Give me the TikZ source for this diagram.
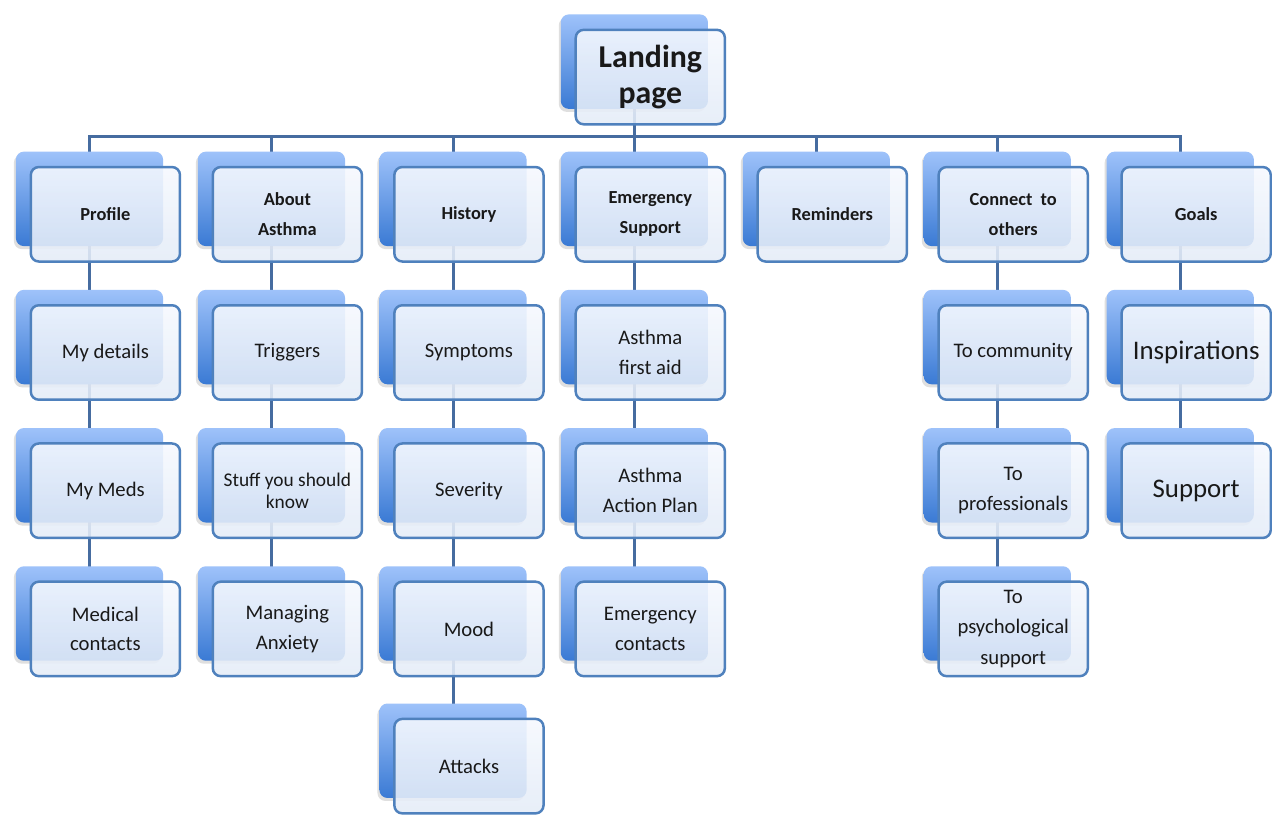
\documentclass[tikz,border=0pt]{standalone}
\usepackage{fontspec}
\setmainfont{Carlito}
\usetikzlibrary{shadows}
\definecolor{linecol}{RGB}{70,108,160}
\definecolor{frontborder}{RGB}{79,129,189}
\definecolor{backtop}{RGB}{158,194,250}
\definecolor{backbot}{RGB}{58,122,212}
\definecolor{frontT}{RGB}{246,249,254}
\definecolor{frontB}{RGB}{228,236,248}
\definecolor{textcol}{RGB}{25,25,25}
\pgfdeclarelayer{bgzero}
\pgfdeclarelayer{background}
\pgfsetlayers{bgzero,background,main}
\newcommand\mkunit[5][]{%
  \node[backbox] (#2-b) at ({#3+60},{#4+33}) {};
  \node[frontbox,#1] (#2) at ({#3+76},{#4+48.5}) {#5};}
\begin{document}
\begin{tikzpicture}[x=1pt,y=-1pt,
  backbox/.style={minimum width=148pt,minimum height=95pt,inner sep=0pt,rounded corners=8pt,
    top color=backtop,bottom color=backbot,draw=none,
    drop shadow={shadow xshift=-2pt,shadow yshift=-3pt,opacity=0.25}},
  frontbox/.style={minimum width=150pt,minimum height=95pt,inner sep=0pt,rounded corners=8pt,
    draw=frontborder,line width=2.5pt,top color=frontT,bottom color=frontB,
    fill opacity=0.88,draw opacity=1,text opacity=1,
    align=center,text=textcol,font=\fontsize{20.8}{30}\selectfont},
  lvlone/.style={font=\bfseries\fontsize{18.5}{30}\selectfont},
  big/.style={font=\fontsize{27}{30}\selectfont},
  link/.style={draw=linecol,line width=3pt}]
\begin{pgfonlayer}{bgzero}
\path[fill=white,use as bounding box] (0,0) rectangle (1272,816);
\end{pgfonlayer}
% landing
\mkunit[font=\bfseries\fontsize{32}{37}\selectfont]{land}{578}{29}{Landing\\page}
% level one
\mkunit[lvlone]{prof}{30}{167}{Profile}
\mkunit[lvlone]{about}{213}{167}{About\\Asthma}
\mkunit[lvlone]{hist}{395.6}{167}{History}
\mkunit[lvlone]{emer}{578}{167}{Emergency\\Support}
\mkunit[lvlone]{rem}{761}{167}{Reminders}
\mkunit[lvlone]{conn}{943}{167}{Connect~ to\\others}
\mkunit[lvlone]{goals}{1127}{167}{Goals}
% profile column
\mkunit{det}{30}{306}{My details}
\mkunit{meds}{30}{445}{My Meds}
\mkunit{medc}{30}{584}{Medical\\contacts}
% about column
\mkunit{trig}{213}{306}{Triggers}
\mkunit[font=\fontsize{19.5}{22}\selectfont]{stuff}{213}{445}{Stuff you should\\know}
\mkunit{anx}{213}{584}{Managing\\Anxiety}
% history column
\mkunit{symp}{395.6}{306}{Symptoms}
\mkunit{sev}{395.6}{445}{Severity}
\mkunit{mood}{395.6}{584}{Mood}
\mkunit{att}{395.6}{722}{Attacks}
% emergency column
\mkunit{faid}{578}{306}{Asthma\\first aid}
\mkunit{plan}{578}{445}{Asthma\\Action Plan}
\mkunit{emc}{578}{584}{Emergency\\contacts}
% connect column
\mkunit{comm}{943}{306}{To community}
\mkunit{pro}{943}{445}{To\\professionals}
\mkunit[font=\fontsize{20.8}{31}\selectfont]{psy}{943}{584}{To\\psychological\\support}
% goals column
\mkunit[big]{insp}{1127}{306}{Inspirations}
\mkunit[big]{supp}{1127}{445}{Support}
% connectors
\begin{pgfonlayer}{background}
\coordinate (bus) at (0,137);
\draw[link] (land-b.center) -- (land-b.center |- bus);
\foreach \n in {prof,about,hist,emer,rem,conn,goals}
  \draw[link] (land-b.center |- bus) -| (\n-b.center);
\draw[link] (prof-b.center) -- (det-b.center);
\draw[link] (det-b.center) -- (meds-b.center);
\draw[link] (meds-b.center) -- (medc-b.center);
\draw[link] (about-b.center) -- (trig-b.center);
\draw[link] (trig-b.center) -- (stuff-b.center);
\draw[link] (stuff-b.center) -- (anx-b.center);
\draw[link] (hist-b.center) -- (symp-b.center);
\draw[link] (symp-b.center) -- (sev-b.center);
\draw[link] (sev-b.center) -- (mood-b.center);
\draw[link] (mood-b.center) -- (att-b.center);
\draw[link] (emer-b.center) -- (faid-b.center);
\draw[link] (faid-b.center) -- (plan-b.center);
\draw[link] (plan-b.center) -- (emc-b.center);
\draw[link] (conn-b.center) -- (comm-b.center);
\draw[link] (comm-b.center) -- (pro-b.center);
\draw[link] (pro-b.center) -- (psy-b.center);
\draw[link] (goals-b.center) -- (insp-b.center);
\draw[link] (insp-b.center) -- (supp-b.center);
\end{pgfonlayer}
\end{tikzpicture}
\end{document}
